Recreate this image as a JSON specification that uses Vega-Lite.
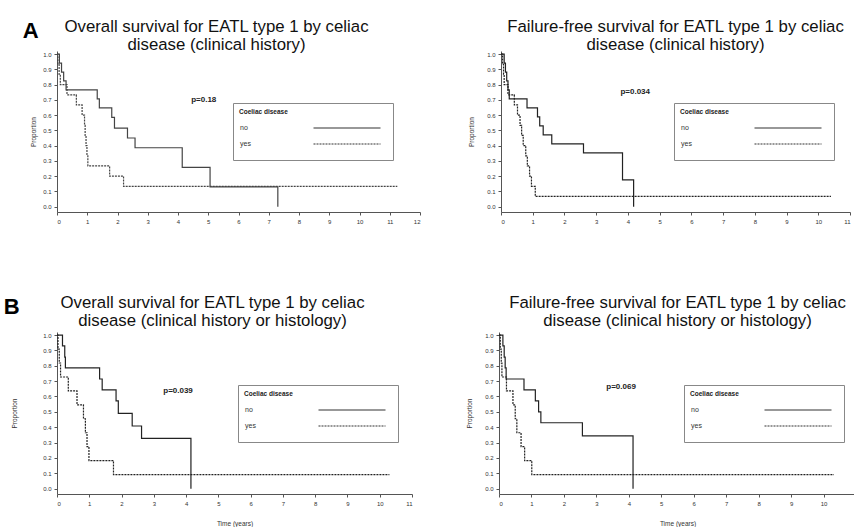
{
  "$schema": "https://vega.github.io/schema/vega-lite/v6.json",
  "padding": {"left": 3, "top": 19, "right": 0, "bottom": 0},
  "background": "white",
  "config": {
    "font": "Liberation Sans",
    "view": {"stroke": null},
    "title": {"font": "Liberation Sans", "fontSize": 16.8, "fontWeight": "normal", "color": "#111", "lineHeight": 18, "anchor": "middle", "offset": -3},
    "axis": {"grid": false, "domainColor": "#555", "tickColor": "#555", "tickSize": 3, "tickCount": 20, "labelOverlap": false, "labelFont": "Liberation Sans", "labelFontSize": 6, "labelColor": "#333", "titleFont": "Liberation Sans", "titleFontSize": 6.5, "titleFontWeight": "normal", "titleColor": "#333", "labelPadding": 3},
    "legend": {"orient": "none", "symbolType": "M 71 -7 M 142 7 M 71 0 H 138", "symbolSize": 4, "symbolOffset": 0, "labelOffset": -6, "strokeColor": "#888", "fillColor": "white", "padding": 6, "titleFont": "Liberation Sans", "titleFontSize": 6.5, "titleFontWeight": "bold", "titleColor": "#222", "titlePadding": 9, "labelFont": "Liberation Sans", "labelFontSize": 7, "labelColor": "#333", "symbolStrokeWidth": 1.2, "symbolStrokeColor": "#333", "symbolFillColor": "transparent", "rowPadding": -3}
  },
  "datasets": {
    "A1": [
      {"group": "no", "time": 0, "surv": 1.0},
      {"group": "no", "time": 0.08, "surv": 0.941},
      {"group": "no", "time": 0.15, "surv": 0.882},
      {"group": "no", "time": 0.22, "surv": 0.824},
      {"group": "no", "time": 0.3, "surv": 0.765},
      {"group": "no", "time": 1.33, "surv": 0.706},
      {"group": "no", "time": 1.4, "surv": 0.647},
      {"group": "no", "time": 1.81, "surv": 0.585},
      {"group": "no", "time": 1.9, "surv": 0.515},
      {"group": "no", "time": 2.33, "surv": 0.45},
      {"group": "no", "time": 2.58, "surv": 0.386},
      {"group": "no", "time": 4.14, "surv": 0.257},
      {"group": "no", "time": 5.06, "surv": 0.129},
      {"group": "no", "time": 7.3, "surv": 0.0},
      {"group": "yes", "time": 0, "surv": 1.0},
      {"group": "yes", "time": 0.03, "surv": 0.933},
      {"group": "yes", "time": 0.07, "surv": 0.867},
      {"group": "yes", "time": 0.11, "surv": 0.8},
      {"group": "yes", "time": 0.33, "surv": 0.733},
      {"group": "yes", "time": 0.64, "surv": 0.667},
      {"group": "yes", "time": 0.83, "surv": 0.6},
      {"group": "yes", "time": 0.91, "surv": 0.533},
      {"group": "yes", "time": 0.93, "surv": 0.467},
      {"group": "yes", "time": 0.96, "surv": 0.4},
      {"group": "yes", "time": 0.99, "surv": 0.333},
      {"group": "yes", "time": 1.02, "surv": 0.267},
      {"group": "yes", "time": 1.74, "surv": 0.2},
      {"group": "yes", "time": 2.2, "surv": 0.133},
      {"group": "yes", "time": 11.25, "surv": 0.133}
    ],
    "A2": [
      {"group": "no", "time": 0, "surv": 1.0},
      {"group": "no", "time": 0.1, "surv": 0.941},
      {"group": "no", "time": 0.14, "surv": 0.882},
      {"group": "no", "time": 0.18, "surv": 0.824},
      {"group": "no", "time": 0.22, "surv": 0.765},
      {"group": "no", "time": 0.26, "surv": 0.706},
      {"group": "no", "time": 0.82, "surv": 0.647},
      {"group": "no", "time": 1.15, "surv": 0.588},
      {"group": "no", "time": 1.22, "surv": 0.529},
      {"group": "no", "time": 1.33, "surv": 0.471},
      {"group": "no", "time": 1.6, "surv": 0.412},
      {"group": "no", "time": 2.6, "surv": 0.353},
      {"group": "no", "time": 3.83, "surv": 0.176},
      {"group": "no", "time": 4.18, "surv": 0.0},
      {"group": "yes", "time": 0, "surv": 1.0},
      {"group": "yes", "time": 0.05, "surv": 0.933},
      {"group": "yes", "time": 0.08, "surv": 0.867},
      {"group": "yes", "time": 0.1, "surv": 0.8},
      {"group": "yes", "time": 0.22, "surv": 0.733},
      {"group": "yes", "time": 0.42, "surv": 0.667},
      {"group": "yes", "time": 0.52, "surv": 0.6},
      {"group": "yes", "time": 0.6, "surv": 0.533},
      {"group": "yes", "time": 0.65, "surv": 0.467},
      {"group": "yes", "time": 0.7, "surv": 0.4},
      {"group": "yes", "time": 0.78, "surv": 0.333},
      {"group": "yes", "time": 0.83, "surv": 0.267},
      {"group": "yes", "time": 0.9, "surv": 0.2},
      {"group": "yes", "time": 0.96, "surv": 0.133},
      {"group": "yes", "time": 1.08, "surv": 0.067},
      {"group": "yes", "time": 10.4, "surv": 0.067}
    ],
    "B1": [
      {"group": "no", "time": 0, "surv": 1.0},
      {"group": "no", "time": 0.17, "surv": 0.929},
      {"group": "no", "time": 0.24, "surv": 0.857},
      {"group": "no", "time": 0.26, "surv": 0.786},
      {"group": "no", "time": 1.32, "surv": 0.714},
      {"group": "no", "time": 1.4, "surv": 0.643},
      {"group": "no", "time": 1.83, "surv": 0.571},
      {"group": "no", "time": 1.9, "surv": 0.49},
      {"group": "no", "time": 2.33, "surv": 0.408},
      {"group": "no", "time": 2.62, "surv": 0.327},
      {"group": "no", "time": 4.15, "surv": 0.0},
      {"group": "yes", "time": 0, "surv": 1.0},
      {"group": "yes", "time": 0.03, "surv": 0.909},
      {"group": "yes", "time": 0.07, "surv": 0.818},
      {"group": "yes", "time": 0.11, "surv": 0.727},
      {"group": "yes", "time": 0.35, "surv": 0.636},
      {"group": "yes", "time": 0.62, "surv": 0.545},
      {"group": "yes", "time": 0.82, "surv": 0.455},
      {"group": "yes", "time": 0.88, "surv": 0.364},
      {"group": "yes", "time": 0.93, "surv": 0.273},
      {"group": "yes", "time": 0.99, "surv": 0.182},
      {"group": "yes", "time": 1.75, "surv": 0.091},
      {"group": "yes", "time": 10.3, "surv": 0.091}
    ],
    "B2": [
      {"group": "no", "time": 0, "surv": 1.0},
      {"group": "no", "time": 0.12, "surv": 0.929},
      {"group": "no", "time": 0.16, "surv": 0.857},
      {"group": "no", "time": 0.19, "surv": 0.786},
      {"group": "no", "time": 0.22, "surv": 0.714},
      {"group": "no", "time": 0.77, "surv": 0.643},
      {"group": "no", "time": 1.12, "surv": 0.571},
      {"group": "no", "time": 1.22, "surv": 0.5},
      {"group": "no", "time": 1.29, "surv": 0.429},
      {"group": "no", "time": 2.57, "surv": 0.343},
      {"group": "no", "time": 4.13, "surv": 0.0},
      {"group": "yes", "time": 0, "surv": 1.0},
      {"group": "yes", "time": 0.04, "surv": 0.909},
      {"group": "yes", "time": 0.07, "surv": 0.818},
      {"group": "yes", "time": 0.09, "surv": 0.727},
      {"group": "yes", "time": 0.23, "surv": 0.636},
      {"group": "yes", "time": 0.43, "surv": 0.545},
      {"group": "yes", "time": 0.5, "surv": 0.455},
      {"group": "yes", "time": 0.55, "surv": 0.364},
      {"group": "yes", "time": 0.68, "surv": 0.273},
      {"group": "yes", "time": 0.79, "surv": 0.182},
      {"group": "yes", "time": 1.01, "surv": 0.091},
      {"group": "yes", "time": 10.32, "surv": 0.091}
    ]
  },
  "spacing": 71,
  "resolve": {"scale": {"strokeDash": "independent"}, "legend": {"strokeDash": "independent"}},
  "vconcat": [
    {
      "title": {"text": "A", "anchor": "start", "frame": "bounds", "fontSize": 22, "fontWeight": "bold", "color": "#000", "offset": -24, "dx": -8},
      "spacing": 47,
      "resolve": {"scale": {"strokeDash": "independent"}, "legend": {"strokeDash": "independent"}},
      "hconcat": [
        {
          "width": 363, "height": 161,
          "title": {"text": ["Overall survival for EATL type 1 by celiac", "disease (clinical history)"], "dx": -22},
          "layer": [
            {
              "data": {"name": "A1"},
              "mark": {"type": "line", "interpolate": "step-after", "strokeWidth": 1.2, "color": "#444"},
              "encoding": {
                "x": {"field": "time", "type": "quantitative", "scale": {"domain": [0, 12], "nice": false, "zero": false}, "axis": {"title": null, "labelOverlap": false, "tickCount": 20, "values": [0,1,2,3,4,5,6,7,8,9,10,11,12], "format": "d"}},
                "y": {"field": "surv", "type": "quantitative", "scale": {"domain": [-0.035, 1.02], "nice": false, "zero": false}, "axis": {"title": "Proportion", "labelOverlap": false, "tickCount": 20, "values": [0,0.1,0.2,0.3,0.4,0.5,0.6,0.7,0.8,0.9,1.0], "format": ".1f", "titlePadding": 6}},
                "strokeDash": {"field": "group", "type": "nominal", "scale": {"domain": ["no", "yes"], "range": [[1, 0], [2, 1]]}, "legend": {"title": "Coeliac disease", "legendX": 176, "legendY": 52}}
              }
            },
            {
              "data": {"values": [{"label": "p=0.18"}]},
              "mark": {"type": "text", "font": "Liberation Sans", "fontSize": 8, "fontWeight": "bold", "color": "#222"},
              "encoding": {"x": {"datum": 4.85}, "y": {"datum": 0.7}, "text": {"field": "label"}}
            }
          ]
        },
        {
          "width": 349, "height": 161,
          "title": {"text": ["Failure-free survival for EATL type 1 by celiac", "disease (clinical history)"]},
          "layer": [
            {
              "data": {"name": "A2"},
              "mark": {"type": "line", "interpolate": "step-after", "strokeWidth": 1.2, "color": "#222"},
              "encoding": {
                "x": {"field": "time", "type": "quantitative", "scale": {"domain": [0, 11], "nice": false, "zero": false}, "axis": {"title": null, "labelOverlap": false, "tickCount": 20, "values": [0,1,2,3,4,5,6,7,8,9,10,11], "format": "d"}},
                "y": {"field": "surv", "type": "quantitative", "scale": {"domain": [-0.035, 1.02], "nice": false, "zero": false}, "axis": {"title": "Proportion", "labelOverlap": false, "tickCount": 20, "values": [0,0.1,0.2,0.3,0.4,0.5,0.6,0.7,0.8,0.9,1.0], "format": ".1f", "titlePadding": 12}},
                "strokeDash": {"field": "group", "type": "nominal", "scale": {"domain": ["no", "yes"], "range": [[1, 0], [2, 1]]}, "legend": {"title": "Coeliac disease", "legendX": 173, "legendY": 52}}
              }
            },
            {
              "data": {"values": [{"label": "p=0.034"}]},
              "mark": {"type": "text", "font": "Liberation Sans", "fontSize": 8, "fontWeight": "bold", "color": "#222"},
              "encoding": {"x": {"datum": 4.23}, "y": {"datum": 0.75}, "text": {"field": "label"}}
            }
          ]
        }
      ]
    },
    {
      "title": {"text": "B", "anchor": "start", "frame": "bounds", "fontSize": 22, "fontWeight": "bold", "color": "#000", "offset": -24, "dx": -8},
      "spacing": 53,
      "resolve": {"scale": {"strokeDash": "independent"}, "legend": {"strokeDash": "independent"}},
      "hconcat": [
        {
          "width": 355, "height": 162,
          "title": {"text": ["Overall survival for EATL type 1 by celiac", "disease (clinical history or histology)"], "dx": -22, "offset": 2},
          "layer": [
            {
              "data": {"name": "B1"},
              "mark": {"type": "line", "interpolate": "step-after", "strokeWidth": 1.2, "color": "#222"},
              "encoding": {
                "x": {"field": "time", "type": "quantitative", "scale": {"domain": [0, 11], "nice": false, "zero": false}, "axis": {"title": "Time (years)", "labelOverlap": false, "tickCount": 20, "titlePadding": 14, "values": [0,1,2,3,4,5,6,7,8,9,10,11], "format": "d"}},
                "y": {"field": "surv", "type": "quantitative", "scale": {"domain": [-0.035, 1.02], "nice": false, "zero": false}, "axis": {"title": "Proportion", "labelOverlap": false, "tickCount": 20, "values": [0,0.1,0.2,0.3,0.4,0.5,0.6,0.7,0.8,0.9,1.0], "format": ".1f", "titlePadding": 25}},
                "strokeDash": {"field": "group", "type": "nominal", "scale": {"domain": ["no", "yes"], "range": [[1, 0], [2, 1]]}, "legend": {"title": "Coeliac disease", "legendX": 181, "legendY": 53}}
              }
            },
            {
              "data": {"values": [{"label": "p=0.039"}]},
              "mark": {"type": "text", "font": "Liberation Sans", "fontSize": 8, "fontWeight": "bold", "color": "#222"},
              "encoding": {"x": {"datum": 3.75}, "y": {"datum": 0.636}, "text": {"field": "label"}}
            }
          ]
        },
        {
          "width": 357, "height": 162,
          "title": {"text": ["Failure-free survival for EATL type 1 by celiac", "disease (clinical history or histology)"], "offset": 2},
          "layer": [
            {
              "data": {"name": "B2"},
              "mark": {"type": "line", "interpolate": "step-after", "strokeWidth": 1.2, "color": "#222"},
              "encoding": {
                "x": {"field": "time", "type": "quantitative", "scale": {"domain": [0, 11], "nice": false, "zero": false}, "axis": {"title": "Time (years)", "labelOverlap": false, "tickCount": 20, "titlePadding": 14, "values": [0,1,2,3,4,5,6,7,8,9,10,11], "format": "d", "labelExpr": "datum.value == 11 ? '' : datum.label"}},
                "y": {"field": "surv", "type": "quantitative", "scale": {"domain": [-0.035, 1.02], "nice": false, "zero": false}, "axis": {"title": "Proportion", "labelOverlap": false, "tickCount": 20, "values": [0,0.1,0.2,0.3,0.4,0.5,0.6,0.7,0.8,0.9,1.0], "format": ".1f", "titlePadding": 12}},
                "strokeDash": {"field": "group", "type": "nominal", "scale": {"domain": ["no", "yes"], "range": [[1, 0], [2, 1]]}, "legend": {"title": "Coeliac disease", "legendX": 185, "legendY": 53}}
              }
            },
            {
              "data": {"values": [{"label": "p=0.069"}]},
              "mark": {"type": "text", "font": "Liberation Sans", "fontSize": 8, "fontWeight": "bold", "color": "#222"},
              "encoding": {"x": {"datum": 3.76}, "y": {"datum": 0.66}, "text": {"field": "label"}}
            }
          ]
        }
      ]
    }
  ]
}
